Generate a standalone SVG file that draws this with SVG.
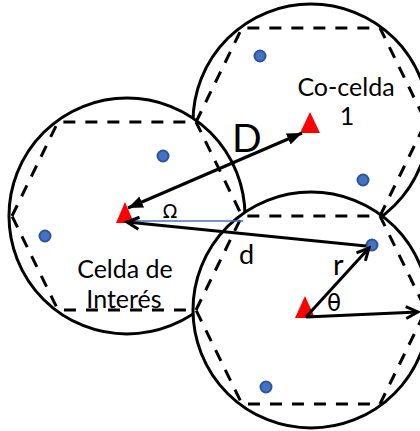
<svg xmlns="http://www.w3.org/2000/svg" width="420" height="431" viewBox="0 0 420 431">
<style>
.cell{fill:#fff;stroke:#000;stroke-width:3}
.hex{fill:none;stroke:#000;stroke-width:3;stroke-dasharray:12 10}
.tri{fill:#f00}
.dot{fill:#4472c4;stroke:#2f5597;stroke-width:2}
.lbl{font-family:Lato,"Liberation Sans",sans-serif;fill:#000}
.grk{font-family:"DejaVu Sans","Liberation Sans",sans-serif;fill:#000}
.arr{stroke:#000;stroke-width:3;fill:none}
</style>
<defs>
<marker id="open" markerUnits="userSpaceOnUse" markerWidth="18" markerHeight="18" viewBox="0 0 18 18" refX="15" refY="9" orient="auto-start-reverse">
<path d="M3,3 L15,9 L3,15" fill="none" stroke="#000" stroke-width="3"/>
</marker>
<marker id="solid" markerUnits="userSpaceOnUse" markerWidth="16" markerHeight="14" viewBox="0 0 16 14" refX="15" refY="7" orient="auto-start-reverse">
<path d="M0,1 L15,7 L0,13 z" fill="#000"/>
</marker>
</defs>
<g id="cocelda-1">
<circle class="cell" cx="311" cy="122" r="118"/>
<polygon class="hex" points="196,122 242,28 380,28 426,122 380,216 242,216"/>
<polygon class="tri" points="310,112 300,133 320,133"/>
<circle class="dot" cx="260" cy="56" r="5.5"/>
<circle class="dot" cx="363" cy="180" r="5.5"/>
<text class="lbl" x="346" y="96" font-size="25" text-anchor="middle">Co-celda</text>
<text class="lbl" x="347" y="125" font-size="25" text-anchor="middle">1</text>
</g>
<g id="celda-interes">
<circle class="cell" cx="127" cy="216" r="118"/>
<polygon class="hex" points="12,216 58,122 196,122 242,216 196,310 58,310"/>
<polygon class="tri" points="125,202 116,223 134,223"/>
<circle class="dot" cx="163" cy="156" r="5.5"/>
<circle class="dot" cx="45" cy="236" r="5.5"/>
<text class="lbl" x="125" y="278" font-size="25" text-anchor="middle">Celda de</text>
<text class="lbl" x="124" y="308" font-size="25" text-anchor="middle">Interés</text>
</g>
<g id="celda-3">
<circle class="cell" cx="311" cy="310" r="118"/>
<polygon class="hex" points="196,310 242,216 380,216 426,310 380,404 242,404"/>
<polygon class="tri" points="305,296 295,318 315,318"/>
<circle class="dot" cx="372" cy="245" r="5.5"/>
<circle class="dot" cx="266" cy="387" r="5.5"/>
</g>
<g id="connectors">
<line x1="127" y1="221" x2="243" y2="221" stroke="#4472c4" stroke-width="1.5"/>
<line class="arr" x1="128" y1="208" x2="302" y2="133" marker-start="url(#solid)" marker-end="url(#solid)"/>
<line class="arr" x1="366" y1="246" x2="127" y2="222" marker-end="url(#open)"/>
<line class="arr" x1="306" y1="317" x2="369" y2="248" marker-end="url(#open)"/>
<line class="arr" x1="306" y1="317" x2="418" y2="312" marker-end="url(#open)"/>
<text class="lbl" x="232" y="152" font-size="39">D</text>
<text class="lbl" x="239" y="264" font-size="27">d</text>
<text class="lbl" x="333" y="275" font-size="29">r</text>
<text class="grk" x="327" y="311" font-size="23">θ</text>
<text class="grk" x="170" y="218" font-size="19" text-anchor="middle">Ω</text>
</g>
</svg>
